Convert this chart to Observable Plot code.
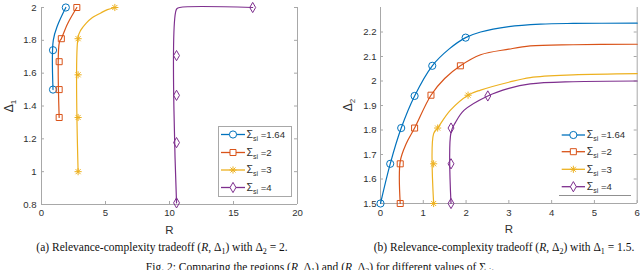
<!DOCTYPE html>
<html><head><meta charset="utf-8">
<script src="https://cdn.jsdelivr.net/npm/d3@7"></script>
<script src="https://cdn.jsdelivr.net/npm/@observablehq/plot@0.6"></script>
<style>
body{margin:0;background:#fff;}
#wrap{position:relative;width:640px;height:270px;overflow:hidden;background:#fff;}
.panel{position:absolute;top:0;}
.cap{position:absolute;font-family:"Liberation Serif","Times New Roman",serif;font-size:11.5px;line-height:11.5px;color:#111;white-space:nowrap;transform:translateX(-50%);}
.cap sub{font-size:8px;line-height:0;}
.cap i{font-style:italic;}
</style></head><body><div id="wrap"></div>
<script>
// ---- shared series info ----
const sigmaValues = ["1.64", "2", "3", "4"];
const seriesColors = ["#0072BD", "#D95319", "#EDB120", "#7E2F8E"];
const seriesSymbols = ["circle", "square", "asterisk", "diamond"];

// ---- panel (a): (R, Delta1), Delta2 = 2 ----
const aTicksX = [0, 5, 10, 15, 20];
const aTicksY = [0.8, 1, 1.2, 1.4, 1.6, 1.8, 2];
const aLine164 = [[0.9, 1.5], [0.92, 1.8], [1.25, 1.89], [1.9, 2.0]];
const aLine2 = [[1.38, 1.33], [1.4, 1.79], [1.55, 1.81], [2.03, 1.9], [2.76, 2.0]];
const aLine3 = [[2.86, 1.0], [2.86, 1.82], [3.07, 1.862], [3.46, 1.902], [3.98, 1.939], [4.63, 1.967], [5.15, 1.987], [5.73, 2.0]];
const aLine4 = [[10.55, 0.81], [10.55, 1.99], [10.8, 2.0], [16.5, 2.0]];
const aMark164 = [[0.9, 1.5], [0.9, 1.74], [1.9, 2.0]];
const aMark2 = [[1.38, 1.33], [1.38, 1.5], [1.38, 1.67], [1.55, 1.81], [2.76, 2.0]];
const aMark3 = [[2.86, 1.0], [2.86, 1.33], [2.86, 1.59], [2.86, 1.81], [5.73, 2.0]];
const aMark4 = [[10.55, 0.81], [10.55, 1.177], [10.55, 1.465], [10.55, 1.707], [16.5, 2.0]];

// ---- panel (b): (R, Delta2), Delta1 = 1.5 ----
const bTicksX = [0, 1, 2, 3, 4, 5, 6];
const bTicksY = [1.5, 1.6, 1.7, 1.8, 1.9, 2, 2.1, 2.2];
const bLine164 = [[0, 1.5], [0.227, 1.662], [0.484, 1.808], [0.797, 1.939], [1.21, 2.062], [1.6, 2.13], [1.99, 2.177], [2.34, 2.2], [3, 2.222], [3.74, 2.232], [4.5, 2.235], [6, 2.236]];
const bLine2 = [[0.461, 1.5], [0.461, 1.672], [0.6, 1.744], [0.797, 1.808], [1.18, 1.942], [1.5, 2.01], [1.867, 2.062], [2.34, 2.107], [3, 2.13], [3.5, 2.143], [4.5, 2.148], [6, 2.15]];
const bLine3 = [[1.242, 1.5], [1.242, 1.785], [1.336, 1.808], [1.63, 1.88], [2.047, 1.942], [2.34, 1.963], [3, 1.995], [3.5, 2.014], [4.5, 2.025], [6, 2.03]];
const bLine4 = [[1.648, 1.5], [1.648, 1.79], [1.75, 1.83], [1.95, 1.88], [2.508, 1.939], [3, 1.97], [3.5, 1.988], [4.5, 1.997], [6, 2.0]];
const bMark164 = [[0, 1.5], [0.227, 1.662], [0.484, 1.808], [0.797, 1.939], [1.21, 2.062], [1.99, 2.177]];
const bMark2 = [[0.461, 1.5], [0.461, 1.662], [0.797, 1.808], [1.18, 1.942], [1.867, 2.062]];
const bMark3 = [[1.242, 1.5], [1.242, 1.662], [1.336, 1.808], [2.047, 1.942]];
const bMark4 = [[1.648, 1.5], [1.648, 1.662], [1.648, 1.808], [2.508, 1.939]];

const axisGrey = "#a8a8a8";
const textGrey = "#303030";
const markerR = {circle: 3.6, square: 3.4, asterisk: 3.4, diamond: 3.1};
// MATLAB-style 8-armed asterisk (plus + times)
const star8 = {
  draw(ctx, size) {
    const r = Math.sqrt(size / Math.PI) * 1.05, d = r * Math.SQRT1_2;
    ctx.moveTo(0, -r); ctx.lineTo(0, r);
    ctx.moveTo(-r, 0); ctx.lineTo(r, 0);
    ctx.moveTo(-d, -d); ctx.lineTo(d, d);
    ctx.moveTo(-d, d); ctx.lineTo(d, -d);
  }
};
const symObj = {circle: d3.symbolCircle, square: d3.symbolSquare, asterisk: star8, diamond: d3.symbolDiamond};

function panel(cfg) {
  const {lines, marks, xDomain, yDomain, xTicks, yTicks, ml, mr, mt, mb, padX, padY, width = 320, height = 240} = cfg;
  const pw = width - ml - mr, ph = height - mt - mb, tl = 3;
  const lineMarks = lines.map((pts, i) => Plot.line(pts, {x: d => d[0], y: d => d[1], stroke: seriesColors[i], strokeWidth: 1.2, curve: "catmull-rom"}));
  const dotMarks = marks.map((pts, i) => Plot.dot(pts, {x: d => d[0], y: d => d[1], symbol: symObj[seriesSymbols[i]], r: markerR[seriesSymbols[i]], stroke: seriesColors[i], fill: "none", strokeWidth: 1}));
  return Plot.plot({
    width, height, marginLeft: ml, marginRight: mr, marginTop: mt, marginBottom: mb,
    style: {fontFamily: "'Liberation Sans', Arial, sans-serif", fontSize: "9.6px", background: "white", overflow: "visible"},
    x: {domain: xDomain},
    y: {domain: yDomain},
    marks: [
      Plot.ruleX([xDomain[0], xDomain[1]], {stroke: axisGrey, strokeWidth: 1}),
      Plot.ruleY([yDomain[0]], {stroke: axisGrey, strokeWidth: 1}),
      Plot.tickY(yTicks, {y: d => d, insetRight: pw - tl, stroke: axisGrey}),
      Plot.tickY(yTicks, {y: d => d, insetLeft: pw - tl, stroke: axisGrey}),
      Plot.tickX(xTicks, {x: d => d, insetTop: ph - tl, stroke: axisGrey}),
      Plot.axisX(xTicks, {tickSize: 0, tickPadding: padX, tickFormat: d => String(d), fill: textGrey, label: null}),
      Plot.axisY(yTicks, {tickSize: 0, tickPadding: padY, tickFormat: d => String(d), fill: textGrey, label: null}),
      ...lineMarks,
      ...dotMarks,
      Plot.text(["R"], {text: d => d, frameAnchor: "bottom", lineAnchor: "middle", dy: 26, fontSize: 11.5, fill: textGrey})
    ]
  });
}

function addYLabel(svg, x, y, sub) {
  const t = d3.select(svg).append("text")
    .attr("transform", `translate(${x},${y}) rotate(-90)`)
    .attr("text-anchor", "middle")
    .attr("font-family", "'Liberation Sans', Arial, sans-serif")
    .attr("font-size", 12).attr("fill", textGrey);
  t.append("tspan").text("Δ");
  t.append("tspan").attr("font-size", 8).attr("dy", 3).text(sub);
}

function addLegend(svg, cfg) {
  const g = d3.select(svg).append("g").attr("text-anchor", "start");
  if (cfg.box) {
    g.append("rect").attr("x", cfg.box[0]).attr("y", cfg.box[1]).attr("width", cfg.box[2]).attr("height", cfg.box[3])
      .attr("fill", "white").attr("stroke", axisGrey);
  }
  if (cfg.bottomLine) {
    g.append("line").attr("x1", cfg.bottomLine[0]).attr("x2", cfg.bottomLine[1]).attr("y1", cfg.bottomLine[2]).attr("y2", cfg.bottomLine[2])
      .attr("stroke", "#909090");
  }
  sigmaValues.forEach((v, i) => {
    const y = cfg.rows[i];
    g.append("line").attr("x1", cfg.lx1).attr("x2", cfg.lx2).attr("y1", y).attr("y2", y)
      .attr("stroke", seriesColors[i]).attr("stroke-width", 1.3);
    const s = seriesSymbols[i], r = markerR[s];
    g.append("path").attr("d", d3.symbol(symObj[s], Math.PI * r * r)()).attr("transform", `translate(${(cfg.lx1 + cfg.lx2) / 2},${y})`)
      .attr("fill", s === "asterisk" ? "none" : "white").attr("stroke", seriesColors[i]).attr("stroke-width", 1);
    const t = g.append("text").attr("x", cfg.tx).attr("y", y + 3.2).attr("text-anchor", "start")
      .attr("font-family", "'Liberation Sans', Arial, sans-serif").attr("font-size", 9.6).attr("fill", textGrey);
    t.append("tspan").attr("font-size", 10.5).text("Σ");
    t.append("tspan").attr("font-size", 7).attr("dy", 3).text("si");
    t.append("tspan").attr("dy", -3).text(" =" + v);
  });
}

const wrap = document.getElementById("wrap");

const plotA = panel({
  lines: [aLine164, aLine2, aLine3, aLine4], marks: [aMark164, aMark2, aMark3, aMark4],
  xDomain: [0, 20], yDomain: [0.8, 2], xTicks: aTicksX, yTicks: aTicksY,
  ml: 41, mr: 23, mt: 7, mb: 36, padX: 5, padY: 5
});
plotA.classList.add("panel"); plotA.style.left = "0px";
wrap.appendChild(plotA);
addYLabel(plotA, 13, 106, "1");
addLegend(plotA, {box: [218.5, 126.5, 73, 70], rows: [134.5, 152.5, 170, 187.5], lx1: 221, lx2: 245, tx: 246.5});

const plotB = panel({
  lines: [bLine164, bLine2, bLine3, bLine4], marks: [bMark164, bMark2, bMark3, bMark4],
  xDomain: [0, 6], yDomain: [1.5, 2.3], xTicks: bTicksX, yTicks: bTicksY,
  ml: 60, mr: 3.3, mt: 7, mb: 37, padX: 6, padY: 4
});
plotB.classList.add("panel"); plotB.style.left = "320px";
wrap.appendChild(plotB);
addYLabel(plotB, 32, 105, "2");
addLegend(plotB, {box: null, bottomLine: [239, 311, 195.5], rows: [135, 151.7, 169.3, 186.7], lx1: 241.7, lx2: 265, tx: 266.7});

// captions
function cap(html, cx, top) {
  const d = document.createElement("div");
  d.className = "cap"; d.style.left = cx + "px"; d.style.top = top + "px";
  d.innerHTML = html; wrap.appendChild(d);
}
cap("(a) Relevance-complexity tradeoff (<i>R</i>, Δ<sub>1</sub>) with Δ<sub>2</sub> = 2.", 162, 241.5);
cap("(b) Relevance-complexity tradeoff (<i>R</i>, Δ<sub>2</sub>) with Δ<sub>1</sub> = 1.5.", 504, 241.5);
cap("Fig. 2: Comparing the regions (<i>R</i>, Δ<sub>1</sub>) and (<i>R</i>, Δ<sub>2</sub>) for different values of Σ<sub>si</sub>.", 320, 262);
</script>
</body></html>
